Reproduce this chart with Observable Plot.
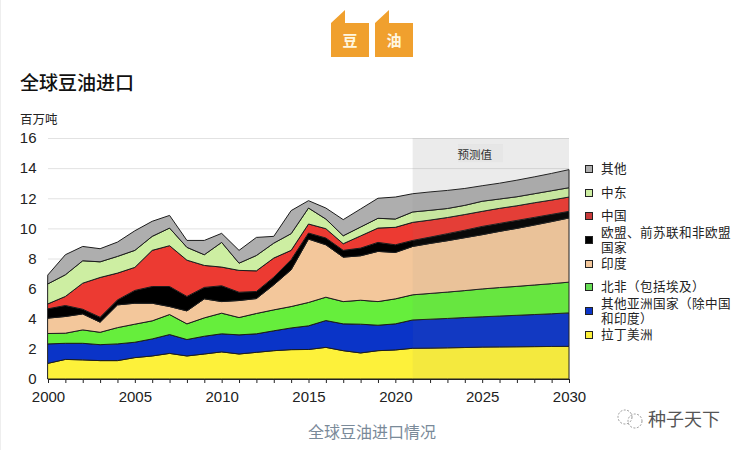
<!DOCTYPE html>
<html lang="zh"><head><meta charset="utf-8">
<script src="https://cdn.jsdelivr.net/npm/d3@7"></script>
<script src="https://cdn.jsdelivr.net/npm/@observablehq/plot@0.6"></script>
<style>
@font-face{font-family:"TightCJK";src:local("Noto Sans CJK SC");ascent-override:85%;descent-override:12%;line-gap-override:0%}
html,body{margin:0;padding:0;background:#fff}
body{width:744px;height:450px;overflow:hidden;position:relative;font-family:"Noto Sans CJK SC","Noto Sans",sans-serif;color:#222}
.abs{position:absolute;white-space:nowrap}
#edge{left:0;top:0;width:1px;height:450px;background:#eee}
.badge{position:absolute;top:10px;width:38px;height:47px;background:#f0a02e;clip-path:polygon(0 13px,14px 0,14px 13px,100% 13px,100% 100%,0 100%);color:#fff7e0;font-weight:700;font-size:15px;line-height:15px;text-align:center}
.badge span{position:absolute;left:0;right:0;top:22px}
#title{left:20px;top:68px;font-size:19px;line-height:28px;font-weight:500;color:#111}
#unit{left:20px;top:111px;font-size:12.5px;line-height:16px;color:#222}
#chart{position:absolute;left:0;top:130px}
#chart svg{display:block;background:transparent}
.sw{position:absolute;left:585px;width:6px;height:6px;border:1.5px solid #222}
.lb{position:absolute;left:601px;font-family:"TightCJK","Noto Sans CJK SC",sans-serif;font-size:12.6px;line-height:15.5px;white-space:nowrap;color:#222}
#cap{left:308px;top:420px;font-size:16px;line-height:22px;color:#7a8a99}
#wm{left:648px;top:407px;font-size:18px;line-height:22px;color:#555}
</style></head><body>
<div class="abs" id="edge"></div>
<div class="badge" style="left:331px"><span>豆</span></div>
<div class="badge" style="left:375px"><span>油</span></div>
<div class="abs" id="title">全球豆油进口</div>
<div class="abs" id="unit">百万吨</div>
<div id="chart"></div>
<div id="legend"></div>
<div class="abs" id="cap">全球豆油进口情况</div>
<svg class="abs" style="left:615px;top:407px" width="30" height="24" fill="none" stroke="#999" stroke-width="1" stroke-dasharray="2 1.5"><circle cx="10" cy="10" r="7"/><circle cx="20" cy="14" r="7"/></svg>
<div class="abs" id="wm">种子天下</div>
<script>
const years = d3.range(2000, 2031);
const xLabelYears = [2000, 2005, 2010, 2015, 2020, 2025, 2030];
const yTicks = [0, 2, 4, 6, 8, 10, 12, 14, 16];
const forecastStart = 2021, forecastEnd = 2030, yMax = 16;

// Upper edge of each stacked band, million tonnes
const latinTop  = [1.04,1.30,1.27,1.22,1.22,1.42,1.53,1.70,1.53,1.66,1.80,1.66,1.77,1.88,1.95,1.96,2.10,1.88,1.73,1.88,1.93,2.04,2.05,2.07,2.09,2.12,2.13,2.14,2.15,2.16,2.17];
const asiaTop   = [2.33,2.37,2.37,2.28,2.33,2.44,2.66,2.95,2.62,2.84,3.00,2.93,3.00,3.20,3.39,3.53,3.88,3.66,3.64,3.57,3.66,3.92,3.97,4.02,4.08,4.13,4.18,4.23,4.28,4.33,4.39];
const nAfricaTop= [3.02,3.04,3.26,3.10,3.41,3.64,3.86,4.28,3.66,4.06,4.37,4.08,4.35,4.59,4.81,5.08,5.43,5.14,5.23,5.14,5.32,5.59,5.68,5.77,5.87,5.98,6.07,6.15,6.24,6.33,6.43];
const indiaTop  = [4.04,4.15,4.32,3.77,4.92,5.03,5.03,4.81,4.52,5.32,5.14,5.21,5.34,6.25,7.25,9.29,8.91,8.09,8.18,8.47,8.40,8.80,9.00,9.18,9.38,9.58,9.80,10.00,10.22,10.45,10.69];
const euTop     = [4.66,4.88,4.63,4.10,5.25,5.88,6.14,6.14,5.48,6.08,6.19,5.76,5.81,6.76,7.92,9.69,9.36,8.54,8.69,9.07,8.91,9.20,9.42,9.65,9.88,10.13,10.33,10.53,10.73,10.93,11.13];
const chinaTop  = [4.99,5.48,6.36,6.74,7.03,7.41,8.54,8.85,7.89,7.54,7.43,7.21,7.18,8.03,8.54,10.29,9.98,8.98,9.50,10.02,10.07,10.40,10.55,10.72,10.92,11.13,11.33,11.50,11.70,11.88,12.08];
const meTop     = [6.32,6.92,7.85,7.78,8.14,8.54,9.47,10.02,8.74,8.25,9.07,7.69,8.20,9.02,9.65,11.35,10.62,9.51,10.09,10.67,10.62,11.09,11.20,11.32,11.53,11.80,11.95,12.10,12.30,12.50,12.70];
const otherTop  = [6.92,8.25,8.80,8.65,9.09,9.84,10.47,10.86,9.20,9.20,9.67,8.54,9.40,9.47,11.18,11.84,11.35,10.58,11.29,12.00,12.08,12.30,12.42,12.52,12.65,12.83,13.00,13.20,13.42,13.65,13.90];

const seriesNames = ["拉丁美洲","其他亚洲国家（除中国和印度）","北非（包括埃及）","印度","欧盟、前苏联和非欧盟国家","中国","中东","其他"];
const seriesTops = [latinTop, asiaTop, nAfricaTop, indiaTop, euTop, chinaTop, meTop, otherTop];
const seriesColors = ["#fdf13a","#0a34c8","#66ee3c","#f3c79b","#000000","#ec3a32","#cdeea2","#aeaeae"];

const rows = seriesNames.flatMap((name, i) => years.map((year, j) => ({
  name, year, y1: i ? seriesTops[i - 1][j] : 0, y2: seriesTops[i][j]
})));
const forecastBand = [{x1: forecastStart, x2: forecastEnd, y1: 0, y2: yMax}];

const plot = Plot.plot({
  width: 744, height: 275,
  marginLeft: 48, marginRight: 175, marginTop: 8, marginBottom: 26,
  style: {fontFamily: '"Liberation Sans", Arial, sans-serif', background: "transparent"},
  x: {domain: [2000, 2030], label: null},
  y: {domain: [0, yMax], label: null},
  color: {domain: seriesNames, range: seriesColors},
  marks: [
    Plot.ruleY(yTicks, {stroke: "#e2e2e2", strokeWidth: 1}),
    Plot.rect(forecastBand, {x1: "x1", x2: "x2", y1: "y1", y2: "y2", fill: "#808080", fillOpacity: 0.09}),
    Plot.areaY(rows, {x: "year", y1: "y1", y2: "y2", z: "name", fill: "name", stroke: "#1c1c1c", strokeWidth: 1, curve: "linear"}),
    Plot.rect(forecastBand, {x1: "x1", x2: "x2", y1: "y1", y2: "y2", fill: "#808080", fillOpacity: 0.07}),
    Plot.rect([{x1: 2023.6, x2: 2026.2, y1: 14.4, y2: 15.6}], {x1: "x1", x2: "x2", y1: "y1", y2: "y2", fill: "#808080", fillOpacity: 0.05}),
    Plot.text(["预测值"], {x: [2024.55], y: [14.9], text: d => d, fontSize: 11.5, fill: "#333", fontFamily: '"Noto Sans CJK SC"'}),
    Plot.ruleY([0], {stroke: "#222", strokeWidth: 1.2}),
    Plot.axisX({ticks: years, tickSize: 4, tickPadding: 8, stroke: "#222", label: null, fontSize: 15, fill: "#222",
      tickFormat: d => xLabelYears.includes(d) ? String(d) : ""}),
    Plot.axisY({ticks: yTicks, tickSize: 0, tickPadding: 12, label: null, fontSize: 15, fill: "#222"})
  ]
});
d3.select(plot).selectAll("[aria-label='x-axis tick label'] text, [aria-label='y-axis tick label'] text").style("font-size", "15px");
document.getElementById("chart").append(plot);

// Legend
const legendItems = [
  ["#aeaeae", 169, ["其他"]],
  ["#cdeea2", 193, ["中东"]],
  ["#c93a3a", 216, ["中国"]],
  ["#000000", 240, ["欧盟、前苏联和非欧盟","国家"]],
  ["#f3c79b", 264, ["印度"]],
  ["#66dd55", 287, ["北非（包括埃及）"]],
  ["#0a34c8", 311, ["其他亚洲国家（除中国","和印度）"]],
  ["#fdf13a", 335, ["拉丁美洲"]]
];
const legend = document.getElementById("legend");
for (const [color, cy, lines] of legendItems) {
  const sw = document.createElement("div");
  sw.className = "sw"; sw.style.top = (cy - 4.5) + "px"; sw.style.background = color;
  legend.append(sw);
  const lb = document.createElement("div");
  lb.className = "lb"; lb.style.top = (cy - lines.length * 7.75) + "px"; lb.innerHTML = lines.join("<br>");
  legend.append(lb);
}
</script>
</body></html>
